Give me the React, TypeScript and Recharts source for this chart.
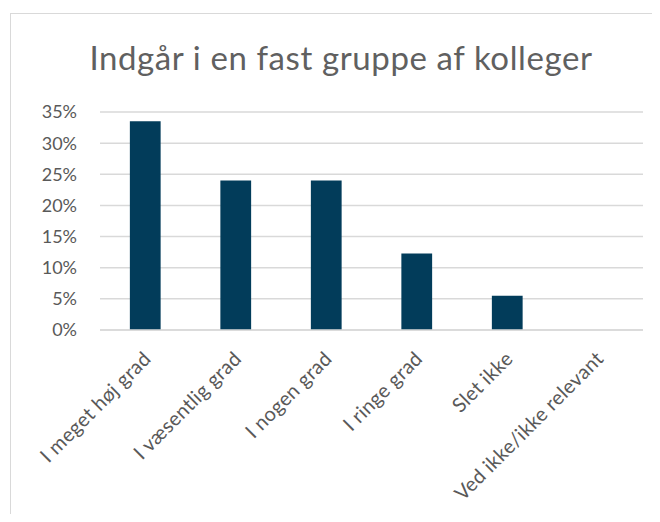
import React from 'react';
import { BarChart, Bar, XAxis, YAxis, CartesianGrid } from 'recharts';

// Kategorier og andele
const categories = [
  'I meget høj grad',
  'I væsentlig grad',
  'I nogen grad',
  'I ringe grad',
  'Slet ikke',
  'Ved ikke/ikke relevant',
];
const shares = [0.335, 0.24, 0.24, 0.123, 0.055, 0];
const yTicks = [0, 0.05, 0.1, 0.15, 0.2, 0.25, 0.3, 0.35];

const data = categories.map((name, i) => ({ name, value: shares[i] }));

const textColor = '#595959';
const gridColor = '#d9d9d9';
const barColor = '#023c5a';
const font = 'Lato, "Open Sans", sans-serif';

const CategoryTick = (props: any) => {
  const { x, y, payload } = props;
  return (
    <g transform={`translate(${x + 7},${y + 22})`}>
      <text
        x={0}
        y={0}
        textAnchor="end"
        transform="rotate(-45)"
        fill={textColor}
        fontSize={20}
        letterSpacing={0.3}
        fontFamily={font}
      >
        {payload.value}
      </text>
    </g>
  );
};

export default function App() {
  return (
    <div style={{ position: 'relative', width: 660, height: 522, margin: -8, overflow: 'hidden', background: '#fff' }}>
      <div
        style={{
          position: 'absolute',
          left: 10,
          top: 13,
          width: 660,
          height: 520,
          border: `1px solid ${gridColor}`,
        }}
      />
      <div
        style={{
          position: 'absolute',
          left: 0,
          width: 682,
          top: 37,
          textAlign: 'center',
          fontFamily: font,
          fontSize: 33,
          letterSpacing: 0.6,
          color: '#606060',
          lineHeight: '40px',
        }}
      >
        Indgår i en fast gruppe af kolleger
      </div>
      <div style={{ position: 'absolute', left: 0, top: 0 }}>
        <BarChart
          width={660}
          height={522}
          data={data}
          margin={{ top: 112, right: 17, bottom: 0, left: 0 }}
          barCategoryGap="67%"
        >
          <CartesianGrid vertical={false} stroke={gridColor} strokeWidth={1.5} />
          <XAxis
            dataKey="name"
            height={192}
            interval={0}
            tickLine={false}
            axisLine={{ stroke: gridColor, strokeWidth: 1.5 }}
            tick={<CategoryTick />}
          />
          <YAxis
            width={100}
            domain={[0, 0.35]}
            ticks={yTicks}
            interval={0}
            axisLine={false}
            tickLine={false}
            tickMargin={17}
            tickFormatter={(v: number) => `${Math.round(v * 100)}%`}
            tick={{ fill: textColor, fontSize: 18, fontFamily: font }}
          />
          <Bar dataKey="value" fill={barColor} isAnimationActive={false} />
        </BarChart>
      </div>
    </div>
  );
}
